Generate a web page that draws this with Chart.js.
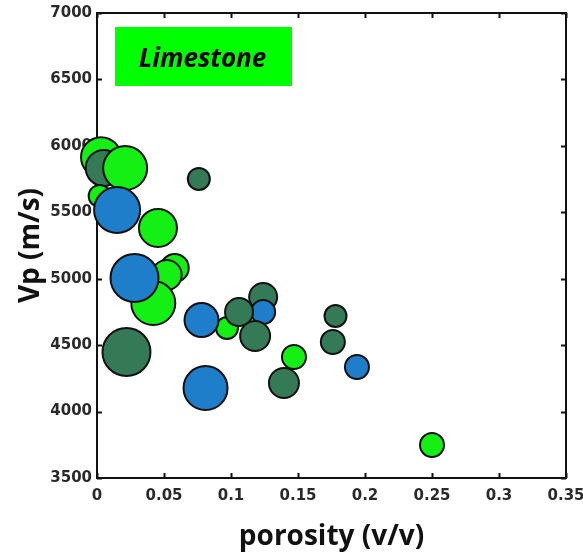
<!DOCTYPE html>
<html><head><meta charset="utf-8">
<script src="https://cdn.jsdelivr.net/npm/chart.js@4.4.1/dist/chart.umd.min.js"></script>
<style>html,body{margin:0;padding:0;background:#fff}canvas{display:block}</style>
</head><body>
<canvas id="c" width="583" height="555"></canvas>
<script>
// ---- data (draw order = array order) ----
const porosity = [0.003, 0.005, 0.002, 0.021, 0.015, 0.0455, 0.076, 0.058, 0.052, 0.042, 0.028, 0.022, 0.097, 0.078, 0.124, 0.124, 0.106, 0.118, 0.081, 0.178, 0.176, 0.1395, 0.147, 0.194, 0.250];
const vp       = [5915, 5833, 5623, 5833, 5517, 5382, 5751, 5081, 5028, 4817, 5005, 4448, 4629, 4689, 4862, 4749, 4749, 4569, 4177, 4719, 4524, 4215, 4411, 4335, 3748];
const bubbleSize = [21, 19, 12, 23, 24, 20, 12, 15, 16, 23, 25, 25, 12, 18, 15, 13, 15, 16, 23, 12, 13, 16, 13, 13, 13];
const rockClass  = ['LG','DG','LG','LG','BL','LG','DG','LG','LG','LG','BL','DG','LG','BL','DG','BL','DG','DG','BL','DG','DG','DG','LG','BL','LG'];
const classColors = {LG: '#14f014', DG: '#347a56', BL: '#1f7ec9'};
const xTicks = [0, 0.05, 0.1, 0.15, 0.2, 0.25, 0.3, 0.35];
const xTickLabels = ['0', '0.05', '0.1', '0.15', '0.2', '0.25', '0.3', '0.35'];
const yTicks = [3500, 4000, 4500, 5000, 5500, 6000, 6500, 7000];
const yTickLabels = ['3500', '4000', '4500', '5000', '5500', '6000', '6500', '7000'];
const xTitle = 'porosity (v/v)';
const yTitle = 'Vp (m/s)';
const boxLabel = 'Limestone';

const points = porosity.map((x, i) => ({x: x, y: vp[i], r: bubbleSize[i] - 1}));
const colors = rockClass.map(c => classColors[c]);

const framePlugin = {
  id: 'frame',
  beforeDatasetsDraw(chart) {
    const {ctx, chartArea: a, scales: {x, y}} = chart;
    ctx.save();
    ctx.strokeStyle = '#111';
    ctx.lineWidth = 2;
    ctx.strokeRect(a.left, a.top, a.right - a.left, a.bottom - a.top);
    ctx.beginPath();
    const tl = 5;
    xTicks.forEach(v => {
      const p = Math.round(x.getPixelForValue(v)) + 0.5;
      ctx.moveTo(p, a.bottom); ctx.lineTo(p, a.bottom - tl);
      ctx.moveTo(p, a.top); ctx.lineTo(p, a.top + tl);
    });
    yTicks.forEach(v => {
      const p = Math.round(y.getPixelForValue(v)) + 0.5;
      ctx.moveTo(a.left, p); ctx.lineTo(a.left + tl, p);
      ctx.moveTo(a.right, p); ctx.lineTo(a.right - tl, p);
    });
    ctx.stroke();
    // label box
    const bx = a.left + 18, by = a.top + 14, bw = 177, bh = 59;
    ctx.fillStyle = '#00ff00';
    ctx.fillRect(bx, by, bw, bh);
    ctx.fillStyle = '#000';
    ctx.font = 'italic bold 26px "Open Sans", "Noto Sans", sans-serif';
    ctx.textAlign = 'center';
    ctx.textBaseline = 'alphabetic';
    ctx.fillText(boxLabel, bx + bw / 2 - 1, by + 40);
    ctx.restore();
  }
};

const tickFont = {family: '"DejaVu Sans", sans-serif', size: 15, weight: 'bold'};
const titleFont = {family: '"Open Sans", "Noto Sans", sans-serif', size: 28, weight: 'bold', lineHeight: 1.2};

new Chart(document.getElementById('c'), {
  type: 'bubble',
  data: {
    datasets: [{
      data: points,
      backgroundColor: colors,
      borderColor: '#111',
      borderWidth: 2,
      clip: false
    }]
  },
  options: {
    responsive: false,
    animation: false,
    devicePixelRatio: 1,
    events: [],
    layout: {autoPadding: false, padding: {top: 13, right: 17, left: 0, bottom: 0}},
    plugins: {legend: {display: false}, tooltip: {enabled: false}},
    scales: {
      x: {
        type: 'linear', min: 0, max: 0.35,
        afterBuildTicks: s => { s.ticks = xTicks.map(v => ({value: v})); },
        afterFit: s => { s.height = 77; s.paddingLeft = 0; s.paddingRight = 0; },
        grid: {display: false, drawTicks: false},
        border: {display: false},
        ticks: {
          autoSkip: false, maxRotation: 0, padding: 9, color: '#2a2a2a', font: tickFont,
          callback: (v, i) => xTickLabels[i]
        },
        title: {display: true, text: xTitle, color: '#111', font: titleFont, padding: {top: 0, bottom: 1}}
      },
      y: {
        type: 'linear', min: 3500, max: 7000,
        afterBuildTicks: s => { s.ticks = yTicks.map(v => ({value: v})); },
        afterFit: s => { s.width = 97; s.paddingTop = 0; s.paddingBottom = 0; },
        grid: {display: false, drawTicks: false},
        border: {display: false},
        ticks: {
          autoSkip: false, padding: 5, color: '#2a2a2a', font: tickFont,
          callback: (v, i) => yTickLabels[i]
        },
        title: {display: true, text: yTitle, color: '#111', font: titleFont, padding: {top: 14, bottom: 0}}
      }
    }
  },
  plugins: [framePlugin]
});
</script>
</body></html>
